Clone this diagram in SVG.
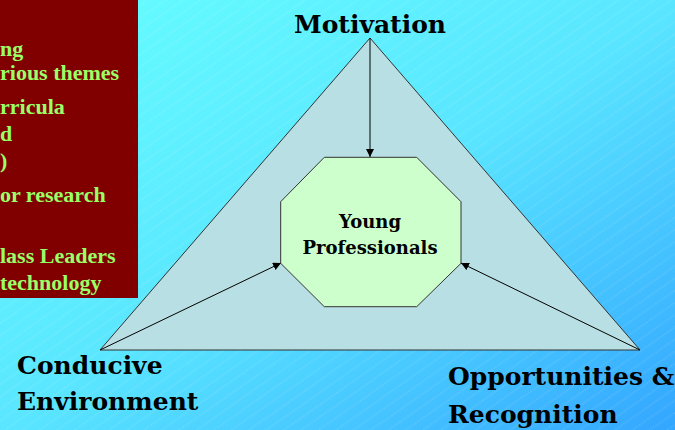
<svg xmlns="http://www.w3.org/2000/svg" width="675" height="430" viewBox="0 0 675 430">
<defs>
<linearGradient id="bg" x1="0" y1="0" x2="1" y2="1">
<stop offset="0" stop-color="#66ffff"/>
<stop offset="0.5" stop-color="#5ae6ff"/>
<stop offset="1" stop-color="#33a6ff"/>
</linearGradient>
<pattern id="hatch" width="10" height="10" patternUnits="userSpaceOnUse" patternTransform="rotate(-35)">
<line x1="0" y1="5" x2="10" y2="5" stroke="#ffffff" stroke-opacity="0.35" stroke-width="0.8" stroke-dasharray="1 1.5"/>
</pattern>
<marker id="ah" viewBox="0 0 10 10" refX="10" refY="5" markerWidth="8" markerHeight="8" markerUnits="userSpaceOnUse" orient="auto">
<path d="M0,0 L10,5 L0,10 Z" fill="#000"/>
</marker>
<style>
.side{font-family:"Liberation Serif",serif;font-weight:bold;font-size:22px;fill:#99ff66}
.lbl{font-family:"DejaVu Serif","Liberation Serif",serif;font-weight:bold;font-size:25px;fill:#000}
.node{font-family:"DejaVu Serif","Liberation Serif",serif;font-weight:bold;font-size:18px;fill:#000}
.conn{stroke:#000;stroke-width:1;fill:none}
</style>
</defs>
<rect width="675" height="430" fill="url(#bg)"/>
<rect width="675" height="430" fill="url(#hatch)"/>
<g id="sidebar">
<rect x="0" y="0" width="138" height="298" fill="#800000"/>
<text class="side" x="0" y="56">ng</text>
<text class="side" x="0" y="80">rious themes</text>
<text class="side" x="0" y="114">rricula</text>
<text class="side" x="0" y="141">d</text>
<text class="side" x="0" y="168">)</text>
<text class="side" x="0" y="202">or research</text>
<text class="side" x="0" y="263">lass Leaders</text>
<text class="side" x="0" y="290">technology</text>
</g>
<g id="triangle">
<polygon points="370,38 100,350 640,350" fill="#b8dfe3" stroke="#333" stroke-width="1"/>
</g>
<g id="connectors">
<line class="conn" x1="370" y1="38" x2="370" y2="157" marker-end="url(#ah)"/>
<line class="conn" x1="100" y1="350" x2="281" y2="263" marker-end="url(#ah)"/>
<line class="conn" x1="640" y1="350" x2="461" y2="263" marker-end="url(#ah)"/>
</g>
<g id="young-professionals">
<polygon points="324.3,157.3 416.7,157.3 461,201.7 461,263.3 416.7,306.7 324.3,306.7 280.7,263.3 280.7,201.7" fill="#ccffcc" stroke="#333" stroke-width="1"/>
<text class="node" x="370" y="228" text-anchor="middle">Young</text>
<text class="node" x="370" y="254" text-anchor="middle">Professionals</text>
</g>
<g id="motivation">
<text class="lbl" x="370" y="33" text-anchor="middle">Motivation</text>
</g>
<g id="conducive-environment">
<text class="lbl" x="17" y="374">Conducive</text>
<text class="lbl" x="17" y="410">Environment</text>
</g>
<g id="opportunities-recognition">
<text class="lbl" x="448" y="385">Opportunities &amp;</text>
<text class="lbl" x="448" y="423">Recognition</text>
</g>
</svg>
